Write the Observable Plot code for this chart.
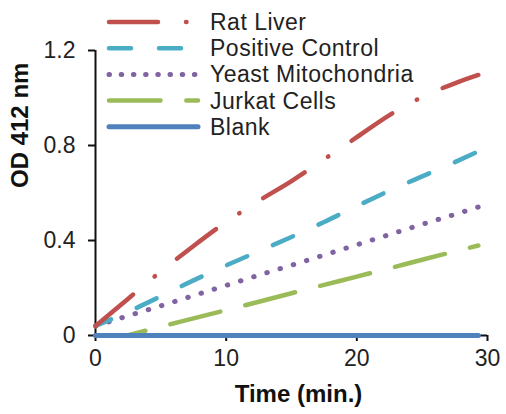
<!DOCTYPE html>
<html>
<head>
<meta charset="utf-8">
<script src="https://cdn.jsdelivr.net/npm/d3@7"></script>
<script src="https://cdn.jsdelivr.net/npm/@observablehq/plot@0.6"></script>
<style>
  html, body { margin: 0; padding: 0; background: #fff; }
  #chart { position: relative; width: 506px; height: 414px; font-family: "Liberation Sans", Arial, sans-serif; }
  #chart svg { position: absolute; left: 0; top: 0; }
</style>
</head>
<body>
<div id="chart"></div>
<script>
// ---- data ----
const time = [0, 2.5, 5, 7.5, 10, 12.5, 15, 17.5, 20, 22.5, 25, 27.5, 29.3];
const ratLiver = [0.04, 0.155, 0.27, 0.377, 0.478, 0.567, 0.65, 0.742, 0.835, 0.928, 1.004, 1.062, 1.097];
const positiveControl = [0.04, 0.10, 0.165, 0.232, 0.295, 0.355, 0.415, 0.478, 0.545, 0.61, 0.67, 0.73, 0.775];
const yeastMito = [0.04, 0.083, 0.125, 0.168, 0.211, 0.254, 0.296, 0.339, 0.382, 0.425, 0.468, 0.51, 0.541];
const jurkatCells = [-0.034, 0.001, 0.037, 0.072, 0.107, 0.142, 0.178, 0.213, 0.248, 0.283, 0.319, 0.354, 0.379];
const blank = [0, 0, 0, 0, 0, 0, 0, 0, 0, 0, 0, 0, 0];

const seriesNames = ["Rat Liver", "Positive Control", "Yeast Mitochondria", "Jurkat Cells", "Blank"];
const seriesValues = [ratLiver, positiveControl, yeastMito, jurkatCells, blank];
const seriesColors = ["#c0504d", "#4bacc6", "#8064a2", "#9bbb59", "#4f81bd"];
const seriesDash = ["49,28,0.5,28", "22,28", "0.5,13.3", "51.5,25.8", null];
const seriesDashOffset = [0, 5, 0, 0, 0];
const seriesWidth = [4.5, 4.5, 5, 4.5, 5];

const xTicks = [0, 10, 20, 30];
const yTicks = [0, 0.4, 0.8, 1.2];
const xTitle = "Time (min.)";
const yTitle = "OD 412 nm";

// ---- build chart ----
const series = seriesNames.map((name, k) => ({
  name,
  color: seriesColors[k],
  dash: seriesDash[k],
  offset: seriesDashOffset[k],
  width: seriesWidth[k],
  rows: time.map((t, i) => ({t, v: seriesValues[k][i]}))
}));

const drawOrder = [3, 2, 1, 0, 4];
const lineMarks = drawOrder.map(k => {
  const s = series[k];
  const hasNegative = s.rows.some(r => r.v < 0);
  const opts = {x: "t", y: "v", stroke: s.color, strokeWidth: s.width, strokeLinecap: "round", curve: "monotone-x", clip: hasNegative};
  if (s.dash) { opts.strokeDasharray = s.dash; opts.strokeDashoffset = s.offset; }
  return Plot.line(s.rows, opts);
});

const plot = Plot.plot({
  width: 506,
  height: 414,
  marginLeft: 95,
  marginRight: 19,
  marginTop: 50,
  marginBottom: 79,
  style: {fontFamily: "Liberation Sans, Arial, sans-serif", fontSize: "23px", color: "#222", background: "white"},
  x: {domain: [0, 30]},
  y: {domain: [0, 1.2]},
  marks: [
    Plot.axisX({ticks: xTicks, tickSize: 6, tickPadding: 8, strokeWidth: 2, stroke: "#111", tickFormat: d => String(d), label: null}),
    Plot.axisY({ticks: yTicks, tickSize: 7, tickPadding: 13, strokeWidth: 2, stroke: "#111", tickFormat: d => String(d), label: null}),
    Plot.ruleX([0], {stroke: "#111", strokeWidth: 2}),
    Plot.ruleY([0], {stroke: "#111", strokeWidth: 2}),
    ...lineMarks,
    Plot.text([xTitle], {frameAnchor: "bottom", dx: 7, dy: 66, fontSize: 24, fontWeight: "bold", fill: "#111"}),
    Plot.text([yTitle], {frameAnchor: "left", dx: -75, dy: -5, rotate: -90, fontSize: 24, fontWeight: "bold", fill: "#111"})
  ]
});

const chart = document.getElementById("chart");
chart.appendChild(plot);

// ---- legend overlay (inside plot area, top-left) ----
const legend = d3.create("svg")
  .attr("width", 506).attr("height", 414)
  .style("pointer-events", "none");
const legendX0 = 109, legendX1 = 198, legendTextX = 210;
const legendY0 = 22, legendStep = 26.2;
series.forEach((s, k) => {
  const y = legendY0 + k * legendStep;
  const ln = legend.append("line")
    .attr("x1", legendX0).attr("x2", legendX1)
    .attr("y1", y).attr("y2", y)
    .attr("stroke", s.color)
    .attr("stroke-width", s.width)
    .attr("stroke-linecap", "round");
  if (s.dash) ln.attr("stroke-dasharray", k === 2 ? "0.5,11.7" : s.dash);
  legend.append("text")
    .attr("x", legendTextX).attr("y", y + 8)
    .attr("font-family", "Liberation Sans, Arial, sans-serif")
    .attr("font-size", 23)
    .attr("letter-spacing", 0.5)
    .attr("fill", "#222")
    .text(s.name);
});
chart.appendChild(legend.node());
</script>
</body>
</html>
